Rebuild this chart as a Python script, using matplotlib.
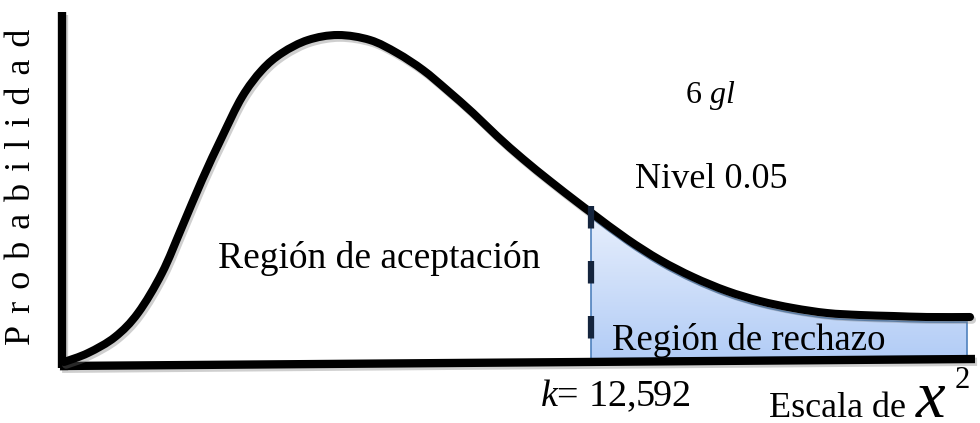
import numpy as np
import matplotlib
matplotlib.use("Agg")
import matplotlib.pyplot as plt
import matplotlib.patheffects as pe
from matplotlib.path import Path
from matplotlib.patches import PathPatch

plt.rcParams['font.family'] = ['Liberation Serif', 'DejaVu Serif']
plt.rcParams['mathtext.fontset'] = 'custom'
plt.rcParams['mathtext.rm'] = 'Liberation Serif'
plt.rcParams['mathtext.it'] = 'Liberation Serif:italic'

# curve (x along the chi-square scale, y = height above the axis)
curve_x = [1, 25, 52, 75, 99, 119, 139, 159, 179, 199, 219, 245, 275, 307, 334, 360,
           384, 410, 434, 460, 487, 514, 530, 564, 597, 630, 664, 697, 730, 764, 797,
           830, 864, 907]
curve_y = [3, 12, 28, 52, 92, 138, 185, 228, 268, 295, 312, 325, 330, 325, 312, 295,
           275, 252, 229, 206, 184, 163, 151, 126, 105, 88, 74, 64, 57, 52, 50,
           49, 48, 48]

k_value = 528        # position of k on the scale
k_label = "$k$= 12,592"
tail_end = 904
axis_x = [-3, 912]
axis_y = [-1, 6]
letters = "Probabilidad"


def smooth_path(xs, ys):
    # cubic bezier through the read points (Catmull-Rom tangents)
    p = np.column_stack([xs, ys]).astype(float)
    ext = np.vstack([p[0], p, p[-1]])
    verts = [p[0]]
    codes = [Path.MOVETO]
    for i in range(1, len(ext) - 2):
        c1 = ext[i] + (ext[i + 1] - ext[i - 1]) / 6
        c2 = ext[i + 1] - (ext[i + 2] - ext[i]) / 6
        verts += [c1, c2, ext[i + 1]]
        codes += [Path.CURVE4] * 3
    return Path(verts, codes)


fig = plt.figure(figsize=(9.8, 4.23), dpi=100)
ax = fig.add_axes([0, 0, 1, 1])
ax.set_xlim(-63, 917)
ax.set_ylim(-58, 365)
ax.axis('off')

shadow = [pe.SimpleLineShadow(offset=(1.5, -2), shadow_color='#777777', alpha=0.35), pe.Normal()]

curve = smooth_path(curve_x, curve_y)
pts = curve.to_polygons(closed_only=False)[0]
order = np.argsort(pts[:, 0])

# shaded rejection region with a vertical gradient
tx = np.linspace(k_value, tail_end, 120)
ty = np.interp(tx, pts[order, 0], pts[order, 1]) - 5
base = np.interp(tx, axis_x, axis_y) + 3
verts = list(zip(tx, ty)) + list(zip(tx[::-1], base[::-1])) + [(tx[0], ty[0])]
clip = plt.Polygon(verts, closed=True, facecolor='none', edgecolor='#4f81bd', lw=1.2, zorder=2)
ax.add_patch(clip)
grad = np.linspace(0, 1, 256).reshape(-1, 1)
cmap = matplotlib.colors.LinearSegmentedColormap.from_list('fill', ['#b0cbf6', '#e6eefc'])
img = ax.imshow(grad, cmap=cmap, extent=(k_value, tail_end, 0, ty.max()), origin='lower',
                aspect='auto', zorder=1)
img.set_clip_path(clip)

# axes lines
ax.plot([-1, -1], [-3, 353], color='black', lw=6, solid_capstyle='butt', zorder=4,
        path_effects=shadow)
ax.plot(axis_x, axis_y, color='black', lw=6, solid_capstyle='butt', zorder=4,
        path_effects=shadow)

# chi-square curve
ax.add_patch(PathPatch(curve, facecolor='none', edgecolor='black', lw=5.8,
                       capstyle='round', zorder=5, path_effects=shadow))

# critical value
k_top = np.interp(k_value, pts[order, 0], pts[order, 1]) + 7
ax.plot([k_value, k_value], [k_top, 6], color='#14243d', lw=4.5, solid_capstyle='butt',
        linestyle=(0, (3.6, 5.2)), zorder=6)

# labels
ax.text(155, 97, "Región de aceptación", fontsize=27, va='baseline', ha='left')
ax.text(549, 15, "Región de rechazo", fontsize=26.5, va='baseline', ha='left', zorder=7)
ax.text(572, 177, "Nivel 0.05", fontsize=26, va='baseline', ha='left')
ax.text(622, 262, "6 $gl$", fontsize=23, va='baseline', ha='left')
ax.text(477, -41, k_label, fontsize=27.5, va='baseline', ha='left')
ax.text(843, -52, "Escala de", fontsize=26, va='baseline', ha='right')
ax.text(853, -52, "x", fontsize=48, style='italic', va='baseline', ha='left')
ax.text(892, -23, "2", fontsize=22, va='baseline', ha='left')
ax.text(-41, 178, "\u2004".join(letters), fontsize=26, rotation=90,
        va='center', ha='center')

# source note, cut by the bottom edge
ax.text(-3, -78, "Fuente:", fontsize=20, fontweight='bold', va='baseline', ha='left',
        clip_on=False)
ax.text(90, -78, "Encuesta a consumidores", fontsize=20, va='baseline', ha='left',
        clip_on=False)

fig.savefig("out.png", dpi=100)
